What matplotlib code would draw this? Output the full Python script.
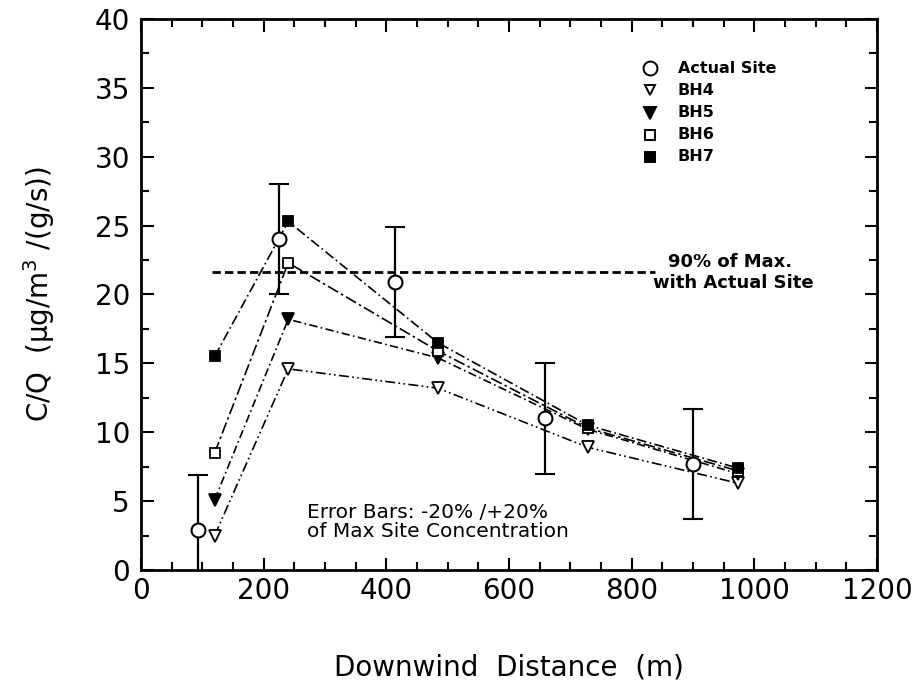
import numpy as np
import matplotlib
matplotlib.use("Agg")
import matplotlib.pyplot as plt
from matplotlib.ticker import MultipleLocator

# ---- data ----
site_x = [93, 225, 414, 658, 900]
site_y = [2.9, 24.0, 20.9, 11.0, 7.7]
site_err = [4.0, 4.0, 4.0, 4.0, 4.0]

bh_x = [120, 240, 484, 729, 973]
bh4_y = [2.5, 14.6, 13.2, 8.9, 6.3]
bh5_y = [5.1, 18.2, 15.4, 10.2, 7.0]
bh6_y = [8.5, 22.3, 15.9, 10.3, 7.2]
bh7_y = [15.5, 25.3, 16.5, 10.5, 7.4]

max_line_y = 21.6
max_line_x = [116, 838]

series = [
    ("BH4", bh4_y, "v", "white", (0, (6, 2, 1, 2, 1, 2))),
    ("BH5", bh5_y, "v", "black", (0, (5, 2, 1, 2))),
    ("BH6", bh6_y, "s", "white", (0, (7, 2, 1.5, 2))),
    ("BH7", bh7_y, "s", "black", (0, (6, 2, 1, 2))),
]

plt.rcParams["font.family"] = ["DejaVu Sans"]

fig = plt.figure(figsize=(9.2, 6.84), dpi=100)
ax = fig.add_axes([0.1533, 0.1667, 0.80, 0.8055])

for name, ys, mk, fc, ls in series:
    ax.plot(bh_x, ys, color="black", lw=1.2, linestyle=ls, zorder=2)
    ax.plot(bh_x, ys, linestyle="none", marker=mk, ms=7 if mk == "s" else 8,
            mfc=fc, mec="black", mew=1.3, zorder=3)

ax.errorbar(site_x, site_y, yerr=site_err, fmt="o", ms=10, mfc="white",
            mec="black", mew=1.5, ecolor="black", elinewidth=1.6,
            capsize=7, capthick=1.8, zorder=4)

ax.plot(max_line_x, [max_line_y, max_line_y], color="black", lw=2,
        linestyle=(0, (3, 1.5)), zorder=2)
ax.text(859, 22.35, "90% of Max.", fontsize=13, ha="left", va="center",
        fontweight="bold")
ax.text(835, 20.8, "with Actual Site", fontsize=13, ha="left", va="center",
        fontweight="bold")

ax.text(271, 4.2, "Error Bars: -20% /+20%", fontsize=14.5, ha="left", va="center")
ax.text(271, 2.76, "of Max Site Concentration", fontsize=14.5, ha="left", va="center")

# hand-made legend, upper right
leg_items = [("Actual Site", "o", "white", 10), ("BH4", "v", "white", 7),
             ("BH5", "v", "black", 8), ("BH6", "s", "white", 7),
             ("BH7", "s", "black", 7)]
for i, (lab, mk, fc, ms) in enumerate(leg_items):
    yy = 36.43 - i * 1.61
    ax.plot([830], [yy], marker=mk, ms=ms, mfc=fc, mec="black", mew=1.4,
            linestyle="none")
    ax.text(875, yy, lab, fontsize=11.5, ha="left", va="center", fontweight="bold")

ax.set_xlim(0, 1200)
ax.set_ylim(0, 40)
ax.xaxis.set_major_locator(MultipleLocator(200))
ax.xaxis.set_minor_locator(MultipleLocator(50))
ax.yaxis.set_major_locator(MultipleLocator(5))
ax.yaxis.set_minor_locator(MultipleLocator(2.5))
ax.tick_params(which="both", direction="in", top=True, right=True,
               width=1.5, labelsize=20)
ax.tick_params(which="major", length=9)
ax.tick_params(which="minor", length=6)
ax.tick_params(axis="x", pad=5)
ax.tick_params(axis="y", pad=8)
for s in ax.spines.values():
    s.set_linewidth(2)

ax.set_xlabel("Downwind  Distance  (m)", fontsize=20, labelpad=35)
ax.set_ylabel("C/Q  (\u03bcg/m$^3$ /(g/s))", fontsize=20, labelpad=27)

fig.savefig("out.png", dpi=100)
